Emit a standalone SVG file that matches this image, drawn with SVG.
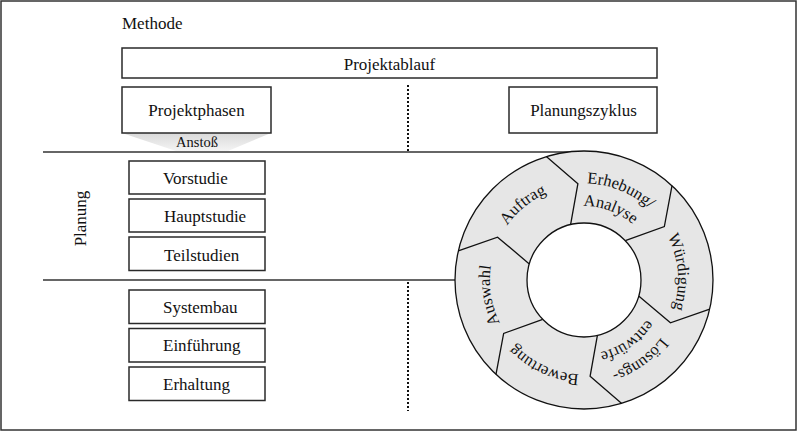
<svg xmlns="http://www.w3.org/2000/svg" xmlns:xlink="http://www.w3.org/1999/xlink" width="798" height="432" viewBox="0 0 798 432">
<style>
  text { font-family: "Liberation Serif", "DejaVu Serif", serif; fill: #111; }
  .box { fill: #fff; stroke: #2a2a2a; stroke-width: 1.5; }
  .t { font-size: 17px; }
  .c { text-anchor: middle; }
  .rule { stroke: #333; stroke-width: 1.5; fill: none; }
  .dot { stroke: #111; stroke-width: 2; stroke-dasharray: 2 2; fill: none; }
  .seg { stroke: #111; stroke-width: 1.3; fill: none; }
  .rt { font-size: 16.5px; text-anchor: middle; }
</style>
<defs>
  <linearGradient id="funnel" x1="0" y1="0" x2="0" y2="1">
    <stop offset="0" stop-color="#d9d9d9"/>
    <stop offset="1" stop-color="#f4f4f4"/>
  </linearGradient>
  <path id="arcOuter" d="M495.67,247.85 A94,94 0 1 1 672.33,312.15 A94,94 0 1 1 495.67,247.85"/>
  <path id="arcOuter2" d="M493.79,247.17 A96,96 0 1 1 674.21,312.83 A96,96 0 1 1 493.79,247.17"/>
  <path id="arcInner" d="M514.46,254.69 A74,74 0 1 1 653.54,305.31 A74,74 0 1 1 514.46,254.69"/>
  <path id="chev" d="M546.3,156.6 L577.9,183.7 L570.6,224.6" class="seg"/>
</defs>

<rect x="1" y="1" width="795" height="429" fill="#fff" stroke="#333" stroke-width="1.5"/>

<g id="connectors">
  <line class="rule" x1="43" y1="152" x2="584" y2="152"/>
  <line class="rule" x1="43" y1="280" x2="456" y2="280"/>
  <line class="dot" x1="408" y1="85" x2="408" y2="151"/>
  <line class="dot" x1="408" y1="282" x2="408" y2="411"/>
  <polygon points="122,133 271,133 228,151 176,151" fill="url(#funnel)"/>
  <text x="197" y="147" class="c" font-size="14.5">Anstoß</text>
</g>

<g id="methode">
  <text x="122" y="29" class="t">Methode</text>
</g>

<g id="projektablauf">
  <rect class="box" x="122" y="48" width="535" height="30"/>
  <text x="389.5" y="69.5" class="t c">Projektablauf</text>
</g>

<g id="projektphasen">
  <rect class="box" x="122" y="87" width="149" height="46"/>
  <text x="196.5" y="116" class="t c">Projektphasen</text>
</g>

<g id="planungszyklus">
  <rect class="box" x="509" y="87" width="148" height="46"/>
  <text x="583.5" y="116" class="t c">Planungszyklus</text>
</g>

<g id="planung">
  <text transform="translate(86,218.5) rotate(-90)" class="t c">Planung</text>
</g>

<g id="vorstudie">
  <rect class="box" x="129" y="161" width="136" height="33"/>
  <text x="163" y="183.5" class="t">Vorstudie</text>
</g>
<g id="hauptstudie">
  <rect class="box" x="129" y="199" width="136" height="33"/>
  <text x="164" y="222" class="t">Hauptstudie</text>
</g>
<g id="teilstudien">
  <rect class="box" x="129" y="237" width="136" height="33.5"/>
  <text x="164" y="260.5" class="t">Teilstudien</text>
</g>

<g id="systembau">
  <rect class="box" x="129" y="290" width="136" height="33.5"/>
  <text x="163" y="313" class="t">Systembau</text>
</g>
<g id="einfuehrung">
  <rect class="box" x="129" y="328.5" width="136" height="33.5"/>
  <text x="163" y="351" class="t">Einführung</text>
</g>
<g id="erhaltung">
  <rect class="box" x="129" y="367" width="136" height="33.5"/>
  <text x="163" y="390" class="t">Erhaltung</text>
</g>

<g id="zyklus">
  <circle cx="584" cy="280" r="129" fill="#e6e6e6" stroke="#111" stroke-width="1.3"/>
  <use xlink:href="#chev"/>
  <use xlink:href="#chev" transform="rotate(60 584 280)"/>
  <use xlink:href="#chev" transform="rotate(120 584 280)"/>
  <use xlink:href="#chev" transform="rotate(180 584 280)"/>
  <use xlink:href="#chev" transform="rotate(240 584 280)"/>
  <use xlink:href="#chev" transform="rotate(300 584 280)"/>
  <circle cx="584" cy="280" r="57" fill="#fff" stroke="#111" stroke-width="1.3"/>
  <text class="rt"><textPath xlink:href="#arcOuter" startOffset="8.6%">Auftrag</textPath></text>
  <text class="rt"><textPath xlink:href="#arcOuter2" startOffset="25.6%">Erhebung/</textPath></text>
  <text class="rt"><textPath xlink:href="#arcInner" startOffset="25.1%">Analyse</textPath></text>
  <text class="rt"><textPath xlink:href="#arcOuter" startOffset="43.1%">Würdigung</textPath></text>
  <text class="rt"><textPath xlink:href="#arcOuter2" startOffset="59.7%">Lösungs-</textPath></text>
  <text class="rt"><textPath xlink:href="#arcInner" startOffset="59.7%">entwürfe</textPath></text>
  <text class="rt"><textPath xlink:href="#arcOuter" startOffset="76.4%">Bewertung</textPath></text>
  <text class="rt"><textPath xlink:href="#arcOuter" startOffset="91.9%">Auswahl</textPath></text>
</g>
</svg>
